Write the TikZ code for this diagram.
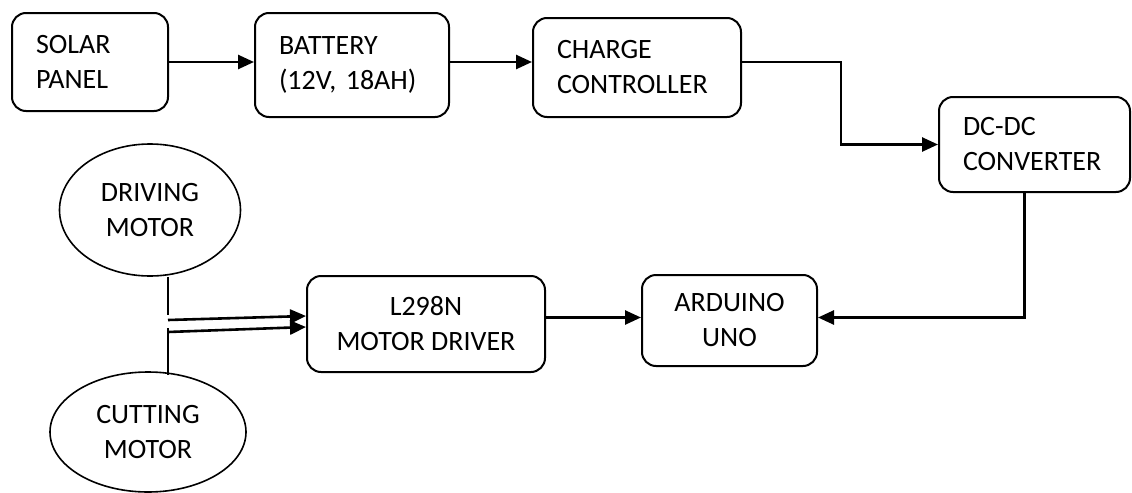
\documentclass[tikz,border=0pt]{standalone}
\usepackage{fontspec}
\setmainfont{Carlito}
\usetikzlibrary{shapes.geometric,arrows.meta}

\begin{document}
\begin{tikzpicture}[x=0.5pt,y=-0.5pt,
 blk/.style={draw,line width=1pt,rounded corners=7pt,inner ysep=0pt,
   font=\fontsize{14}{17.5}\selectfont\frenchspacing},
 lblk/.style={blk,inner xsep=12pt,align=left},
 cblk/.style={blk,inner xsep=0pt,align=center},
 motor/.style={draw,ellipse,line width=0.8pt,inner sep=0pt,align=center,
   font=\fontsize{14}{17.5}\selectfont},
 arr/.style={line width=1.3pt,-{Triangle[length=8pt,width=7pt]}},
 wire/.style={line width=0.8pt}]
\useasboundingbox (0,0) rectangle (1132,493);
% supply chain
\node[lblk,minimum width=78pt,minimum height=49pt,text width=54pt] (solar) at (90,62) {SOLAR\\PANEL};
\node[lblk,minimum width=97pt,minimum height=52pt,text width=73pt] (battery) at (352,65) {BATTERY\\\mbox{(12V, 18AH)}};
\node[lblk,minimum width=104pt,minimum height=49.5pt,text width=80pt] (charge) at (637,67.5) {CHARGE\\CONTROLLER};
\node[lblk,minimum width=95.5pt,minimum height=47.5pt,text width=71.5pt] (dcdc) at (1034.5,144.5) {DC-DC\\CONVERTER};
% control chain
\node[cblk,minimum width=119pt,minimum height=48pt] (driver) at (426,324) {L298N\\MOTOR DRIVER};
\node[cblk,minimum width=87.5pt,minimum height=45.5pt] (uno) at (729.5,320.5) {ARDUINO\\UNO};
% motors
\node[motor,minimum width=90.5pt,minimum height=66pt] (drv) at (150,210) {DRIVING\\MOTOR};
\node[motor,minimum width=98pt,minimum height=60pt] (cut) at (148,432) {CUTTING\\MOTOR};
\coordinate (drvend) at (168,315);
\coordinate (drvtap) at (168,320);
\coordinate (cutend) at (168,328);
\coordinate (cuttap) at (168,332);
% arrows
\draw[arr] (solar.east) -- (solar.east -| battery.west);
\draw[arr] (battery.east |- solar.east) -- (solar.east -| charge.west);
\draw[arr] (charge.east |- solar.east) -- ++(99,0) |- (dcdc.west);
\draw[arr] ([xshift=-5pt]dcdc.south) |- ([yshift=1.5pt]uno.east);
\draw[arr] (driver.east |- uno.west) ++(0,-3) -- ([yshift=1.5pt]uno.west);
% motor leads
\draw[wire] (drv.south -| drvend) -- (drvend);
\draw[wire] ([yshift=-2pt]cut.north -| cutend) -- (cutend);
\draw[arr] (drvtap) -- ([yshift=4pt]driver.west);
\draw[arr] (cuttap) -- ([yshift=-1.5pt]driver.west);
\end{tikzpicture}
\end{document}
